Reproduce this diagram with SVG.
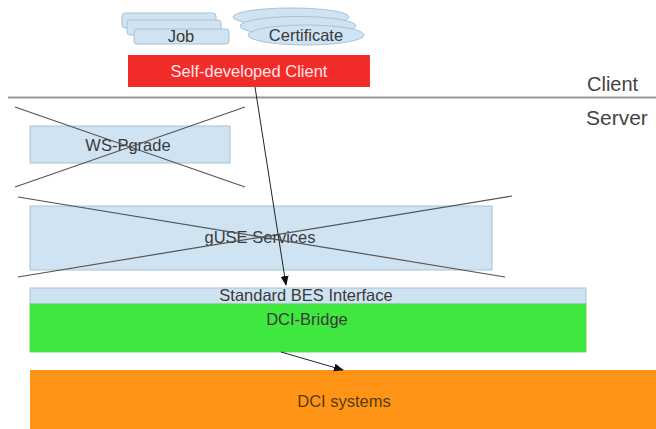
<svg xmlns="http://www.w3.org/2000/svg" width="656" height="429" viewBox="0 0 656 429">
<style>
.lb{fill:#cfe3f2;stroke:#a9c3d6;stroke-width:1}
.t{font-family:"Liberation Sans",Arial,sans-serif;font-size:16.5px;fill:#3a3a3a;text-anchor:middle}
.x{stroke:#555;stroke-width:1.2;fill:none}
.c{stroke:#222;stroke-width:1;fill:none}
</style>
<defs>
<marker id="ah" markerWidth="10" markerHeight="10" refX="9" refY="5" orient="auto" markerUnits="userSpaceOnUse">
<path d="M0,1 L10,5 L0,9 Z" fill="#111"/>
</marker>
</defs>
<rect width="656" height="429" fill="#fff"/>
<g id="job">
<rect class="lb" x="122" y="13" width="94" height="15" rx="3"/>
<rect class="lb" x="127" y="20" width="94" height="15" rx="3"/>
<rect class="lb" x="134" y="29" width="95" height="15" rx="3"/>
<text class="t" x="181" y="42">Job</text>
</g>
<g id="certificate">
<ellipse class="lb" cx="291" cy="17" rx="58" ry="9"/>
<ellipse class="lb" cx="298" cy="26" rx="58" ry="9.5"/>
<ellipse class="lb" cx="306" cy="35" rx="58" ry="10"/>
<text class="t" x="306" y="41">Certificate</text>
</g>
<g id="client">
<rect x="128" y="55" width="242" height="32" fill="#f22b2b"/>
<text class="t" x="249" y="77" style="fill:#ffe4e4">Self-developed Client</text>
</g>
<g id="separator">
<line x1="8" y1="97.5" x2="656" y2="97.5" stroke="#999" stroke-width="2"/>
<text x="587" y="91" font-family="Liberation Sans, Arial, sans-serif" font-size="20" fill="#444">Client</text>
<text x="586" y="125" font-family="Liberation Sans, Arial, sans-serif" font-size="21" fill="#444">Server</text>
</g>
<g id="wspgrade">
<rect class="lb" x="30" y="126" width="200" height="37"/>
<text class="t" x="128" y="151">WS-Pgrade</text>
<line class="x" x1="15" y1="107" x2="245" y2="187"/>
<line class="x" x1="15" y1="187" x2="245" y2="107"/>
</g>
<g id="guse">
<rect class="lb" x="30" y="206" width="462" height="64"/>
<text class="t" x="260" y="243">gUSE Services</text>
<line class="x" x1="18" y1="197" x2="505" y2="277"/>
<line class="x" x1="18" y1="277" x2="512" y2="196"/>
</g>
<g id="bes">
<rect class="lb" x="30" y="288" width="556" height="16"/>
<text class="t" x="306" y="301">Standard BES Interface</text>
</g>
<g id="dcibridge">
<rect x="30" y="304" width="556" height="48" fill="#3ee83e" stroke="#5cc95c" stroke-width="0.8"/>
<text class="t" x="307" y="325">DCI-Bridge</text>
</g>
<g id="dcisystems">
<rect x="30" y="370" width="626" height="59" fill="#ff9417"/>
<text class="t" x="344" y="407" style="fill:#5a3a10">DCI systems</text>
</g>
<g id="connectors">
<line class="c" x1="255" y1="87" x2="286" y2="285" marker-end="url(#ah)"/>
<line class="c" x1="281" y1="352" x2="343" y2="370" marker-end="url(#ah)"/>
</g>
</svg>
